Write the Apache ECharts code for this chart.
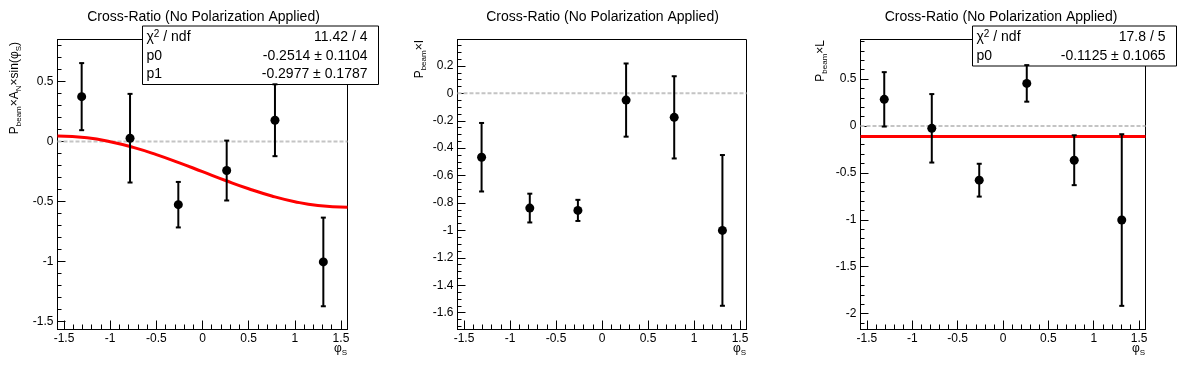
<!DOCTYPE html>
<html>
<head>
<meta charset="utf-8">
<script src="https://cdn.jsdelivr.net/npm/echarts@6/dist/echarts.min.js"></script>
<style>html,body{margin:0;padding:0;background:#fff}#c{width:1196px;height:372px}</style>
</head>
<body>
<div id="c"></div>
<script>
// ---- data ----
const phi = [-1.309, -0.785, -0.262, 0.262, 0.785, 1.309];
const anVals = [0.375, 0.028, -0.527, -0.242, 0.178, -1.005];
const anErrs = [0.28, 0.37, 0.19, 0.25, 0.30, 0.37];
const iVals = [-0.466, -0.837, -0.854, -0.049, -0.175, -1.0];
const iErrs = [0.25, 0.105, 0.077, 0.267, 0.30, 0.55];
const lVals = [0.284, -0.025, -0.578, 0.454, -0.365, -1.003];
const lErrs = [0.29, 0.365, 0.175, 0.195, 0.266, 0.915];
// fit curve panel 1 (p0 + p1*sin(phi) as drawn)
const fit1X = [-1.5708, -1.25, -1.0, -0.75, -0.5, -0.25, 0, 0.25, 0.5, 0.75, 1.0, 1.25, 1.5708];
const fit1Y = [0.0463, 0.0311, -0.0009, -0.0485, -0.1087, -0.1777, -0.2514, -0.3251, -0.3941, -0.4543, -0.5019, -0.5339, -0.5491];
// constant fit panel 3
const fit3X = [-1.5708, 1.5708];
const fit3Y = [-0.1125, -0.1125];
// tick labels
const xMajor = [-1.5, -1, -0.5, 0, 0.5, 1, 1.5];
const y1Major = [-1.5, -1, -0.5, 0, 0.5];
const y2Major = [-1.6, -1.4, -1.2, -1, -0.8, -0.6, -0.4, -0.2, 0, 0.2];
const y3Major = [-2, -1.5, -1, -0.5, 0, 0.5];
const title = 'Cross-Ratio (No Polarization Applied)';

function steps(lo, hi, st, excl) {
  const out = [];
  const n = Math.round((hi - lo) / st);
  for (let i = 0; i <= n; i++) {
    const v = Math.round((lo + i * st) * 1000) / 1000;
    if (!excl.some(e => Math.abs(e - v) < 1e-6)) out.push(v);
  }
  return out;
}
const xMinor = steps(-1.5, 1.5, 0.1, xMajor);
const y1Minor = steps(-1.5, 0.8, 0.1, y1Major);
const y2Minor = steps(-1.7, 0.35, 0.05, y2Major);
const y3Minor = steps(-2.1, 0.9, 0.1, y3Major);

const FONT = "'Liberation Sans', Arial, Helvetica, sans-serif";
const panels = [
  {grid: {left: 57.5, top: 39.5, width: 290, height: 290}, y: [-1.569, 0.852], yMaj: y1Major, yMin: y1Minor, vals: anVals, errs: anErrs},
  {grid: {left: 457.5, top: 39.5, width: 289, height: 290}, y: [-1.723, 0.393], yMaj: y2Major, yMin: y2Minor, vals: iVals, errs: iErrs},
  {grid: {left: 860.5, top: 39.5, width: 285, height: 290}, y: [-2.17, 0.922], yMaj: y3Major, yMin: y3Minor, vals: lVals, errs: lErrs}
];

const grids = [], xAxes = [], yAxes = [], series = [];
const fmt = v => String(Math.round(v * 100) / 100);
panels.forEach((p, i) => {
  grids.push(Object.assign({show: true, borderColor: '#000', borderWidth: 1, containLabel: false}, p.grid));
  const xBase = {gridIndex: i, type: 'value', min: -1.5708, max: 1.5708, position: 'bottom', splitLine: {show: false}};
  xAxes.push(Object.assign({}, xBase, {
    axisLine: {show: true, onZero: false, lineStyle: {color: '#000', width: 1}},
    axisTick: {show: true, inside: true, length: 9, customValues: xMajor, lineStyle: {color: '#000', width: 1}},
    axisLabel: {show: true, customValues: xMajor, formatter: fmt, color: '#000', fontSize: 12, fontFamily: FONT, margin: 3}
  }));
  xAxes.push(Object.assign({}, xBase, {
    axisLine: {show: false, onZero: false},
    axisTick: {show: true, inside: true, length: 5, customValues: xMinor, lineStyle: {color: '#000', width: 1}},
    axisLabel: {show: false}
  }));
  const yBase = {gridIndex: i, type: 'value', min: p.y[0], max: p.y[1], position: 'left', splitLine: {show: false}};
  yAxes.push(Object.assign({}, yBase, {
    axisLine: {show: true, onZero: false, lineStyle: {color: '#000', width: 1}},
    axisTick: {show: true, inside: true, length: 8, customValues: p.yMaj, lineStyle: {color: '#000', width: 1}},
    axisLabel: {show: true, customValues: p.yMaj, formatter: fmt, color: '#000', fontSize: 12, fontFamily: FONT, margin: 4}
  }));
  yAxes.push(Object.assign({}, yBase, {
    axisLine: {show: false, onZero: false},
    axisTick: {show: true, inside: true, length: 4, customValues: p.yMin, lineStyle: {color: '#000', width: 1}},
    axisLabel: {show: false}
  }));
  const xi = 2 * i, yi = 2 * i;
  // zero reference line
  series.push({type: 'line', xAxisIndex: xi, yAxisIndex: yi, data: [[-1.5708, 0], [1.5708, 0]], symbol: 'none',
    lineStyle: {color: '#c4c4c4', width: 2, type: [4, 2]}, z: 1, silent: true, animation: false});
  // error bars
  series.push({type: 'custom', xAxisIndex: xi, yAxisIndex: yi, z: 4, animation: false,
    data: phi.map((x, k) => [x, p.vals[k], p.vals[k] - p.errs[k], p.vals[k] + p.errs[k]]),
    renderItem: function (params, api) {
      const x = api.value(0);
      const a = api.coord([x, api.value(2)]);
      const b = api.coord([x, api.value(3)]);
      const cap = 2.5;
      const st = {stroke: '#000', lineWidth: 2};
      return {type: 'group', children: [
        {type: 'line', shape: {x1: a[0], y1: a[1], x2: b[0], y2: b[1]}, style: st},
        {type: 'line', shape: {x1: a[0] - cap, y1: a[1], x2: a[0] + cap, y2: a[1]}, style: st},
        {type: 'line', shape: {x1: b[0] - cap, y1: b[1], x2: b[0] + cap, y2: b[1]}, style: st}
      ]};
    }
  });
  series.push({type: 'scatter', xAxisIndex: xi, yAxisIndex: yi, z: 5, animation: false,
    data: phi.map((x, k) => [x, p.vals[k]]), symbol: 'circle', symbolSize: 9, itemStyle: {color: '#000', opacity: 1}});
});
// fit curves
series.push({type: 'line', xAxisIndex: 0, yAxisIndex: 0, data: fit1X.map((x, k) => [x, fit1Y[k]]), smooth: true, symbol: 'none',
  lineStyle: {color: '#ff0000', width: 3}, z: 3, animation: false});
series.push({type: 'line', xAxisIndex: 4, yAxisIndex: 4, data: fit3X.map((x, k) => [x, fit3Y[k]]), symbol: 'none',
  lineStyle: {color: '#ff0000', width: 3}, z: 3, animation: false});

const sub = {
  n: {fontSize: 12, fontFamily: FONT, color: '#000', lineHeight: 16, verticalAlign: 'middle'},
  s: {fontSize: 8, fontFamily: FONT, color: '#000', lineHeight: 8, verticalAlign: 'bottom'}
};
const sup = {
  n: {fontSize: 14, fontFamily: FONT, color: '#000', lineHeight: 16, verticalAlign: 'middle'},
  u: {fontSize: 10, fontFamily: FONT, color: '#000', lineHeight: 10, verticalAlign: 'top'}
};
function yTitle(x, y, rich) {
  return {type: 'text', x: x, y: y, rotation: Math.PI / 2, z: 50,
    style: {text: rich, rich: sub, align: 'right', verticalAlign: 'middle', font: '12px ' + FONT, fill: '#000'}};
}
function statBox(x, y, w, rows) {
  const rowH = 18.5;
  const h = rows.length * rowH + 3;
  const children = [{type: 'rect', shape: {x: 0, y: 0, width: w, height: h}, style: {fill: '#fff', stroke: '#000', lineWidth: 1}}];
  rows.forEach((r, k) => {
    const cy = 2 + rowH * k + rowH / 2;
    children.push({type: 'text', x: 4, y: cy, style: {text: r[0], rich: sup, font: '14px ' + FONT, fill: '#000', align: 'left', verticalAlign: 'middle'}});
    children.push({type: 'text', x: w - 11, y: cy, style: {text: r[1], font: '14px ' + FONT, fill: '#000', align: 'right', verticalAlign: 'middle'}});
  });
  return {type: 'group', x: x, y: y, z: 100, children: children};
}
function xTitle(xr, y) {
  return {type: 'text', x: xr, y: y, z: 50,
    style: {text: '{n|φ}{s|S}', rich: sub, align: 'right', verticalAlign: 'middle', font: '12px ' + FONT, fill: '#000'}};
}

const chart = echarts.init(document.getElementById('c'), null, {renderer: 'canvas'});
chart.setOption({
  animation: false,
  backgroundColor: '#fff',
  title: [198.5, 597.5, 996].map(cx => ({text: title, left: cx, top: 5, textAlign: 'center',
    textStyle: {fontSize: 14, fontWeight: 'normal', color: '#000', fontFamily: FONT}})),
  grid: grids,
  xAxis: xAxes,
  yAxis: yAxes,
  series: series,
  graphic: [
    yTitle(15, 42, '{n|P}{s|beam}{n|×A}{s|N}{n|×sin(φ}{s|S}{n|)}'),
    yTitle(420, 40, '{n|P}{s|beam}{n|×I}'),
    yTitle(821, 40, '{n|P}{s|beam}{n|×L}'),
    xTitle(347, 349), xTitle(746, 349), xTitle(1145, 349),
    statBox(142.5, 26, 236, [['{n|χ}{u|2}{n| / ndf}', '11.42 / 4'], ['{n|p0}', '-0.2514 ± 0.1104'], ['{n|p1}', '-0.2977 ± 0.1787']]),
    statBox(972.5, 26, 204, [['{n|χ}{u|2}{n| / ndf}', '17.8 / 5'], ['{n|p0}', '-0.1125 ± 0.1065']])
  ]
});
</script>
</body>
</html>
